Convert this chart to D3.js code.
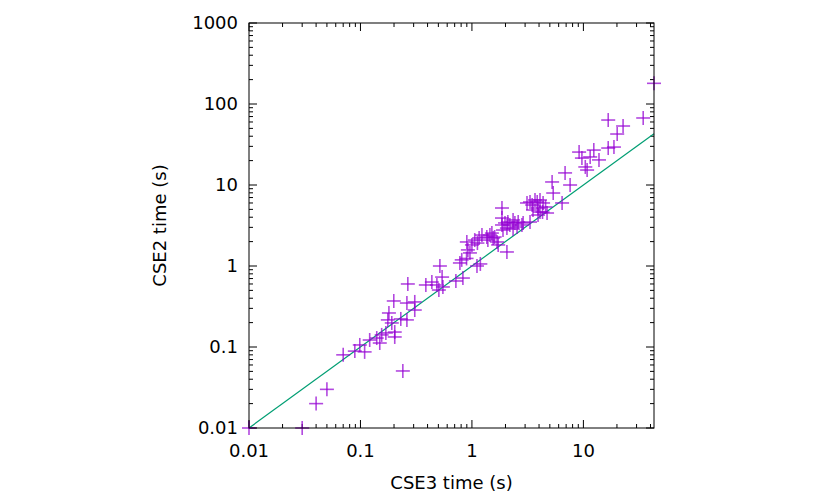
<!DOCTYPE html>
<html><head><meta charset="utf-8">
<script src="https://cdn.jsdelivr.net/npm/d3@7"></script>
<style>
body{margin:0;background:#fff;}
text{font-family:"DejaVu Sans",sans-serif;font-size:18px;fill:#000;}
</style></head>
<body><svg id="c" width="830" height="498"></svg>
<script>
// CSE3 time (s) — x values
const cse3 = [0.01,0.030,0.040,0.050,0.070,0.089,0.0986,0.109,0.121,0.140,0.149,0.155,0.169,0.180,0.176,0.191,0.203,0.203,0.199,0.230,0.240,0.261,0.261,0.266,0.307,0.307,0.386,0.437,0.485,0.516,0.505,0.549,0.54,0.718,0.83,0.78,0.81,1.11,1.19,0.96,2.06,0.90,0.92,1.0,1.06,1.12,1.16,1.23,1.36,1.39,1.51,1.55,1.60,1.68,1.72,1.86,1.90,2.06,1.86,1.86,1.98,2.10,2.19,2.34,2.43,2.54,2.60,2.81,2.88,3.12,3.32,3.47,3.68,3.85,4.08,4.08,4.35,3.53,3.92,4.30,4.72,3.92,4.58,5.24,5.36,6.44,6.85,7.60,10.8,9.15,9.7,11.5,12.4,13.8,10.4,16.7,18.8,20.1,22.7,16.7,34.4,43,0.895,3.32,2.34,1.45];
// CSE2 time (s) — y values
const cse2 = [0.01,0.01,0.020,0.030,0.080,0.089,0.106,0.087,0.122,0.129,0.112,0.141,0.149,0.263,0.216,0.198,0.153,0.133,0.370,0.222,0.0506,0.216,0.349,0.60,0.36,0.286,0.583,0.634,0.583,1.0,0.505,0.551,0.73,0.653,0.71,1.09,1.19,1.0,1.06,1.45,1.49,1.98,1.58,1.82,2.09,1.92,2.22,2.41,2.28,2.09,2.55,2.22,2.28,1.98,1.82,3.21,2.78,2.94,5.2,3.91,3.40,3.49,3.21,3.70,3.40,3.03,3.49,3.21,3.40,6.0,6.17,5.66,6.53,6.17,6.53,4.64,6.0,4.91,5.2,4.64,4.51,4.26,5.35,10.9,7.96,6.0,14.1,10.0,15.3,25.5,21.5,22.2,27.0,20.4,16.7,28.6,29.4,42.6,53.5,63.4,67.2,180,1.24,3.49,2.86,2.41];
const xTicks = [0.01,0.1,1,10];
const yTicks = [0.01,0.1,1,10,100,1000];
const xTickLabels = ["0.01","0.1","1","10"];
const yTickLabels = ["0.01","0.1","1","10","100","1000"];
const xDomain = [0.01,43];
const yDomain = [0.01,1000];

const L=249,R=654,T=23,B=428;
const svg=d3.select("#c");
const x=d3.scaleLog().domain(xDomain).range([L,R]);
const y=d3.scaleLog().domain(yDomain).range([B,T]);

// minor ticks
function minors(dom){const out=[];for(let e=-3;e<=3;e++){for(let k=1;k<=9;k++){const v=k*Math.pow(10,e);if(v>=dom[0]*0.9999&&v<=dom[1]*1.0001)out.push({v,major:k===1});}}return out;}
const g=svg.append("g");
const xt=minors(xDomain), yt=minors(yDomain);
xt.forEach(t=>{const len=t.major?8:4;const px=x(t.v);
 g.append("line").attr("x1",px).attr("x2",px).attr("y1",B).attr("y2",B-len).attr("stroke","#000");
 g.append("line").attr("x1",px).attr("x2",px).attr("y1",T).attr("y2",T+len).attr("stroke","#000");});
yt.forEach(t=>{const len=t.major?8:4;const py=y(t.v);
 g.append("line").attr("x1",L).attr("x2",L+len).attr("y1",py).attr("y2",py).attr("stroke","#000");
 g.append("line").attr("x1",R).attr("x2",R-len).attr("y1",py).attr("y2",py).attr("stroke","#000");});

// tick labels
xTicks.forEach((v,i)=>svg.append("text").attr("x",x(v)).attr("y",457).attr("text-anchor","middle").text(xTickLabels[i]));
yTicks.forEach((v,i)=>svg.append("text").attr("x",238).attr("y",y(v)).attr("dy","0.36em").attr("text-anchor","end").text(yTickLabels[i]));

// diagonal
svg.append("line").attr("x1",x(0.01)).attr("y1",y(0.01)).attr("x2",x(xDomain[1])).attr("y2",y(xDomain[1])).attr("stroke","#009e73").attr("stroke-width",1.2);

// points
const pts=svg.append("g").attr("stroke","#9400d3").attr("stroke-width",1.6).attr("stroke-opacity",0.72);
cse3.forEach((vx,i)=>{const px=x(vx),py=y(cse2[i]);
 pts.append("line").attr("x1",px-7).attr("x2",px+7).attr("y1",py).attr("y2",py);
 pts.append("line").attr("x1",px).attr("x2",px).attr("y1",py-7).attr("y2",py+7);});

// border
svg.append("rect").attr("x",L).attr("y",T).attr("width",R-L).attr("height",B-T).attr("fill","none").attr("stroke","#000");

// axis titles
svg.append("text").attr("x",(L+R)/2).attr("y",489).attr("text-anchor","middle").text("CSE3 time (s)");
svg.append("text").attr("transform",`translate(166,${(T+B)/2}) rotate(-90)`).attr("text-anchor","middle").text("CSE2 time (s)");
</script></body></html>
